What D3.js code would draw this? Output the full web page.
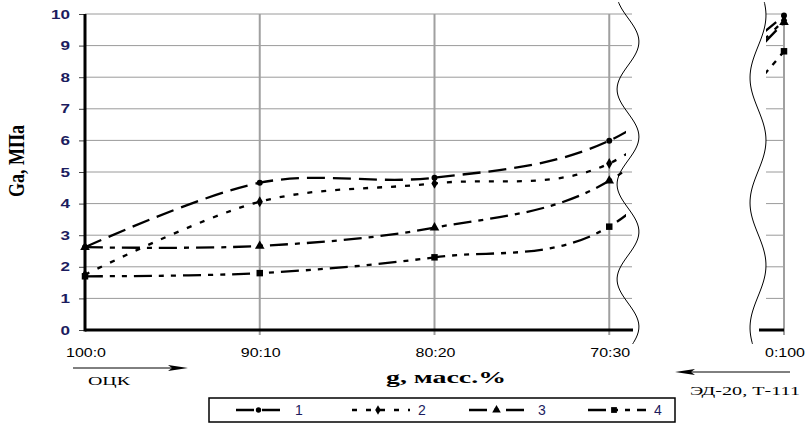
<!DOCTYPE html>
<html>
  <head>
    <meta charset="UTF-8" />
    <title>Ga vs composition</title>
    <script src="https://cdnjs.cloudflare.com/ajax/libs/d3/7.8.5/d3.min.js"></script>
    <style>
      body { margin: 0; padding: 0; background: #fff; }
      svg { display: block; }
    </style>
  </head>
  <body>
    <svg id="chart" width="809" height="423"></svg>
    <script>
      // data
      const categories = ["100:0", "90:10", "80:20", "70:30", "0:100"];
      const series1 = [2.62, 4.66, 4.82, 5.99, 9.95];
      const series2 = [1.75, 4.06, 4.64, 5.27, 9.80];
      const series3 = [2.62, 2.66, 3.24, 4.72, 9.74];
      const series4 = [1.70, 1.80, 2.30, 3.27, 8.82];
      const seriesNames = ["1", "2", "3", "4"];
      const yTicks = [0, 1, 2, 3, 4, 5, 6, 7, 8, 9, 10];

      const svg = d3.select("#chart");
      const navy = "#1c1c5e";

      const x = d3.scalePoint().domain(categories).range([85, 784]);
      const y = d3.scaleLinear().domain([0, 10]).range([330, 14]);

      const leftEnd = 632, rightStart = 766;

      const defs = svg.append("defs");
      defs.append("clipPath").attr("id", "clipL")
        .append("rect").attr("x", 0).attr("y", 0).attr("width", 626).attr("height", 423);
      defs.append("clipPath").attr("id", "clipR")
        .append("rect").attr("x", rightStart).attr("y", 0).attr("width", 60).attr("height", 423);

      // horizontal grid
      const grid = svg.append("g");
      yTicks.filter(t => t > 0).forEach(t => {
        grid.append("line").attr("x1", x(categories[0])).attr("x2", leftEnd)
          .attr("y1", y(t)).attr("y2", y(t)).attr("stroke", "#9a9a9a").attr("stroke-width", 1);
        grid.append("line").attr("x1", rightStart).attr("x2", x(categories[4]))
          .attr("y1", y(t)).attr("y2", y(t)).attr("stroke", "#9a9a9a").attr("stroke-width", 1);
      });
      // vertical grid
      categories.slice(1).forEach(c => {
        grid.append("line").attr("x1", x(c)).attr("x2", x(c))
          .attr("y1", y(10)).attr("y2", y(0) + 5)
          .attr("stroke", "#a0a0a0").attr("stroke-width", 2);
      });

      // y axis
      const yAxis = svg.append("g")
        .attr("transform", `translate(${x(categories[0])},0)`)
        .call(d3.axisLeft(y).tickValues(yTicks).tickSize(6).tickPadding(9));
      yAxis.select(".domain").remove();
      yAxis.selectAll(".tick line").attr("stroke", "#444");
      yAxis.selectAll(".tick text")
        .attr("font-family", "Arial, 'Liberation Sans', sans-serif")
        .attr("font-weight", "bold").attr("font-size", 13).attr("fill", navy)
        .attr("textLength", d => String(d).length * 9.5)
        .attr("lengthAdjust", "spacingAndGlyphs");

      // axis lines
      svg.append("line").attr("x1", x(categories[0])).attr("x2", x(categories[0]))
        .attr("y1", y(10)).attr("y2", y(0) + 1.5).attr("stroke", "#000").attr("stroke-width", 3);
      svg.append("line").attr("x1", x(categories[0])).attr("x2", leftEnd + 1)
        .attr("y1", y(0)).attr("y2", y(0)).attr("stroke", "#000").attr("stroke-width", 3);
      svg.append("line").attr("x1", 759).attr("x2", x(categories[4]))
        .attr("y1", y(0)).attr("y2", y(0)).attr("stroke", "#000").attr("stroke-width", 3);

      // series
      const allSeries = [series1, series2, series3, series4];
      const dashes = ["18,8", "5,9", "18,7,5,7", "18,7,5,7,5,7"];
      const symbols = [d3.symbolCircle, d3.symbolDiamond, d3.symbolTriangle, d3.symbolSquare];
      const symSizes = [28, 34, 40, 42];

      const line = d3.line()
        .x((d, i) => x(categories[i]))
        .y(d => y(d))
        .curve(d3.curveCardinal.tension(0));

      ["clipL", "clipR"].forEach(cid => {
        const g = svg.append("g").attr("clip-path", `url(#${cid})`);
        allSeries.forEach((s, k) => {
          g.append("path").attr("d", line(s))
            .attr("fill", "none").attr("stroke", "#000")
            .attr("stroke-width", 2.3).attr("stroke-dasharray", dashes[k]);
        });
      });

      allSeries.forEach((s, k) => {
        svg.append("g").selectAll("path").data(s).join("path")
          .attr("transform", (d, i) => `translate(${x(categories[i])},${y(d)})`)
          .attr("d", d3.symbol().type(symbols[k]).size(symSizes[k]))
          .attr("fill", "#000");
      });

      // break marks
      const wave = d3.line().curve(d3.curveBasis);
      const ys = d3.range(2, 347, 3);
      svg.append("path")
        .attr("d", wave(ys.map(v => [628 + 11 * Math.sin(2 * Math.PI * (v - 18) / 95), v])))
        .attr("fill", "none").attr("stroke", "#000").attr("stroke-width", 1);
      svg.append("path")
        .attr("d", wave(ys.map(v => [758 + 8 * Math.sin(2 * Math.PI * (v - 109) / 125), v])))
        .attr("fill", "none").attr("stroke", "#000").attr("stroke-width", 1);

      // category labels
      svg.append("g").selectAll("text").data(categories).join("text")
        .attr("x", d => x(d) + 1).attr("y", 357)
        .attr("text-anchor", "middle")
        .attr("font-family", "Arial, 'Liberation Sans', sans-serif")
        .attr("font-size", 12).attr("fill", "#000")
        .attr("textLength", 40).attr("lengthAdjust", "spacingAndGlyphs")
        .text(d => d);

      // axis titles
      svg.append("text")
        .attr("x", 446).attr("y", 383).attr("text-anchor", "middle")
        .attr("font-family", "'Liberation Serif', 'Times New Roman', serif")
        .attr("font-weight", "bold").attr("font-size", 16).attr("fill", "#000")
        .attr("textLength", 120).attr("lengthAdjust", "spacingAndGlyphs")
        .text("g, масс.%");
      svg.append("text")
        .attr("transform", "translate(24,161) rotate(-90)")
        .attr("text-anchor", "middle")
        .attr("font-family", "'Liberation Serif', 'Times New Roman', serif")
        .attr("font-weight", "bold").attr("font-size", 24).attr("fill", "#000")
        .attr("textLength", 72).attr("lengthAdjust", "spacingAndGlyphs")
        .text("Ga, МПа");

      // arrows + component labels
      function arrow(x1, x2, yy) {
        const dir = Math.sign(x2 - x1);
        svg.append("line").attr("x1", x1).attr("x2", x2 - dir * 14)
          .attr("y1", yy).attr("y2", yy).attr("stroke", "#000").attr("stroke-width", 1);
        svg.append("path")
          .attr("d", `M${x2},${yy} L${x2 - dir * 20},${yy - 3} L${x2 - dir * 16},${yy} L${x2 - dir * 20},${yy + 3} Z`)
          .attr("fill", "#000");
      }
      arrow(73, 188, 368);
      arrow(790, 675, 372);
      svg.append("text").attr("x", 88).attr("y", 385)
        .attr("font-family", "'Liberation Serif', 'Times New Roman', serif")
        .attr("font-size", 13).attr("textLength", 42).attr("lengthAdjust", "spacingAndGlyphs")
        .text("ОЦК");
      svg.append("text").attr("x", 690).attr("y", 395)
        .attr("font-family", "'Liberation Serif', 'Times New Roman', serif")
        .attr("font-size", 13).attr("textLength", 110).attr("lengthAdjust", "spacingAndGlyphs")
        .text("ЭД-20, Т-111");

      // legend
      const legend = svg.append("g");
      legend.append("rect").attr("x", 209).attr("y", 398).attr("width", 466).attr("height", 24)
        .attr("fill", "#fff").attr("stroke", "#000").attr("stroke-width", 1.5);
      const legX = [236, 352, 469, 588];
      const legW = [51, 58, 61, 58];
      seriesNames.forEach((name, k) => {
        const ly = 410;
        legend.append("line").attr("x1", legX[k]).attr("x2", legX[k] + legW[k])
          .attr("y1", ly).attr("y2", ly).attr("stroke", "#000")
          .attr("stroke-width", 2.3).attr("stroke-dasharray", dashes[k]);
        legend.append("path")
          .attr("transform", `translate(${legX[k] + legW[k] / 2 - 3},${ly})`)
          .attr("d", d3.symbol().type(symbols[k]).size(symSizes[k] * 0.8))
          .attr("fill", "#000");
        legend.append("text").attr("x", legX[k] + legW[k] + 8).attr("y", ly + 5)
          .attr("font-family", "Arial, 'Liberation Sans', sans-serif")
          .attr("font-size", 14).attr("fill", navy)
          .text(name);
      });
    </script>
  </body>
</html>
